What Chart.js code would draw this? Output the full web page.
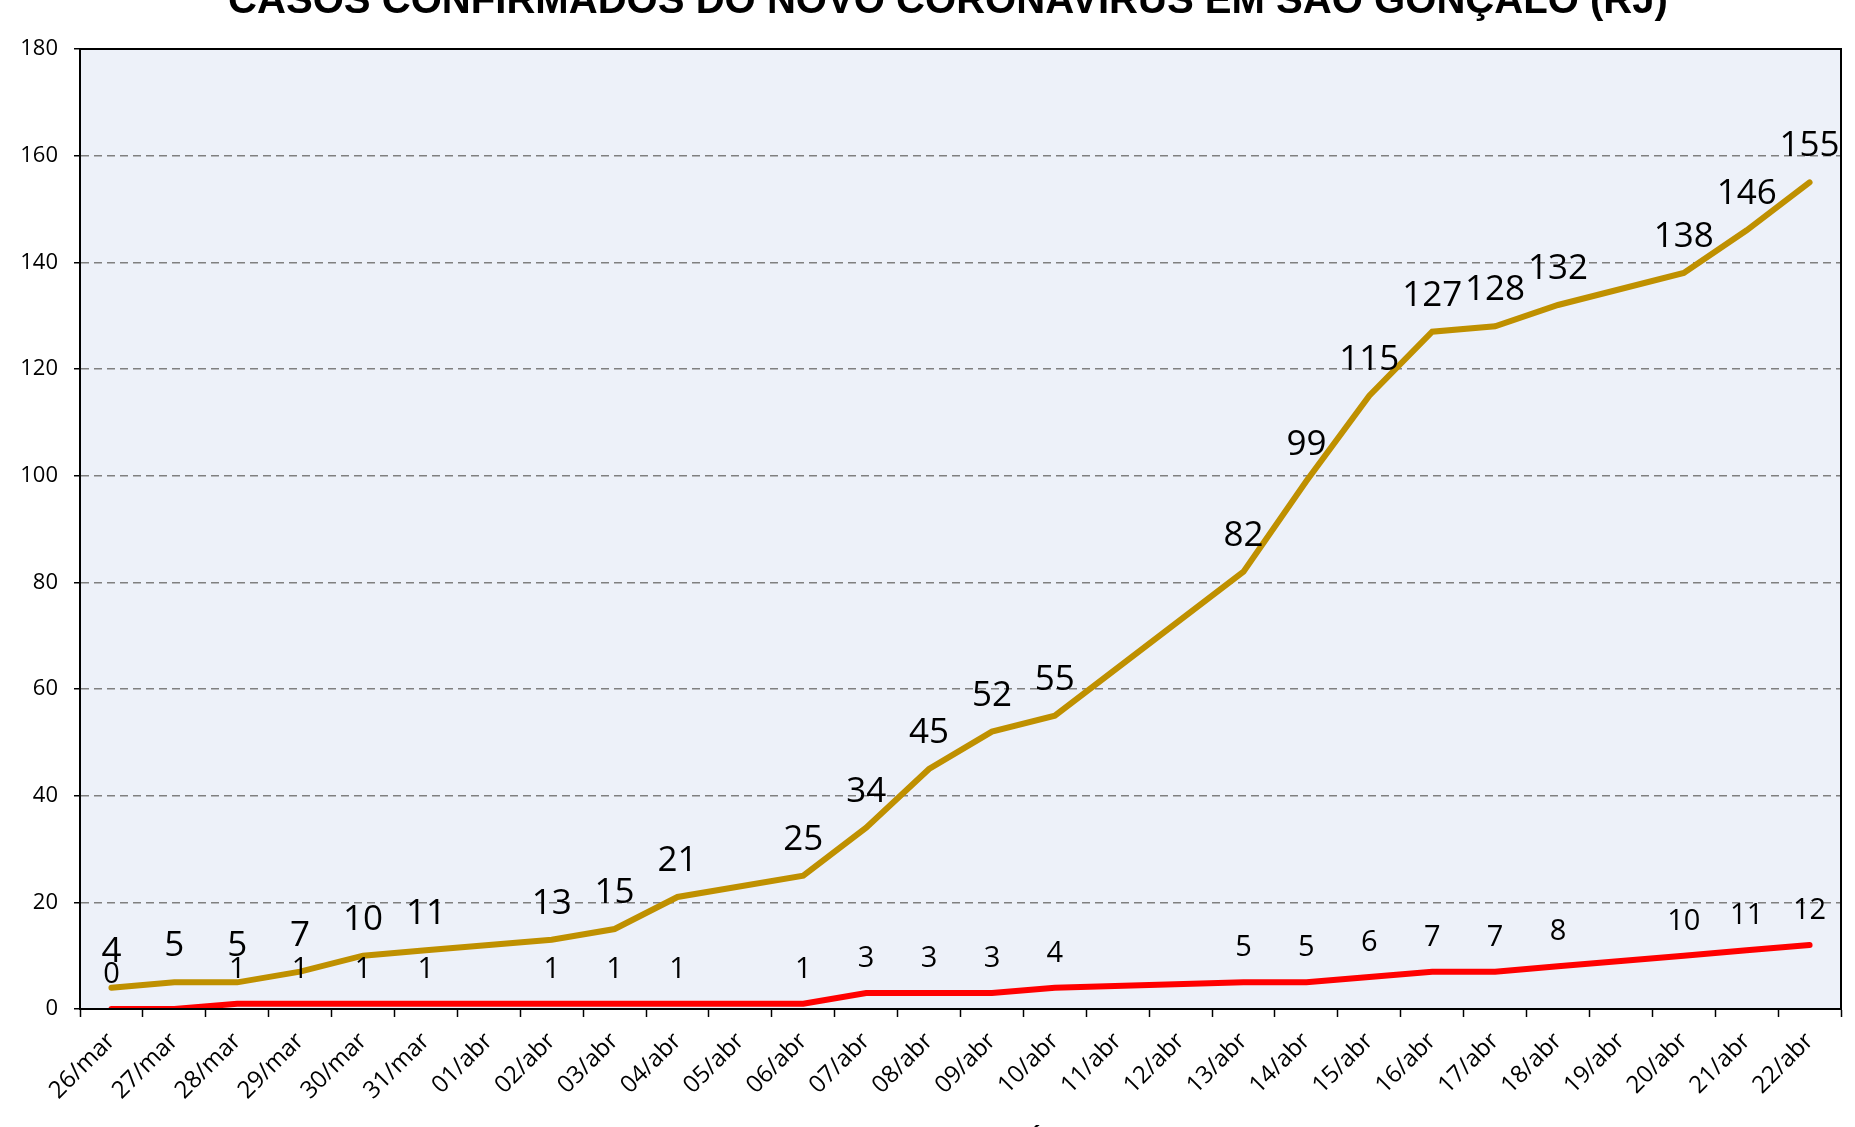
<!DOCTYPE html>
<html>
<head>
<meta charset="utf-8">
<script src="https://cdn.jsdelivr.net/npm/chart.js@4.4.1/dist/chart.umd.min.js"></script>
<style>
  html, body { margin: 0; padding: 0; background: #fff; }
  #box { width: 1855px; height: 1127px; }
</style>
</head>
<body>
<div id="box"><canvas id="grafico"></canvas></div>
<script>
const dias = ['26/mar','27/mar','28/mar','29/mar','30/mar','31/mar','01/abr','02/abr','03/abr','04/abr',
  '05/abr','06/abr','07/abr','08/abr','09/abr','10/abr','11/abr','12/abr','13/abr','14/abr',
  '15/abr','16/abr','17/abr','18/abr','19/abr','20/abr','21/abr','22/abr'];

// dias sem registro ficam null (linha liga os pontos vizinhos)
const casos = [4,5,5,7,10,11,null,13,15,21,null,25,34,45,52,55,null,null,82,99,115,127,128,132,null,138,146,155];
const obitos = [0,0,1,1,1,1,null,1,1,1,null,1,3,3,3,4,null,null,5,5,6,7,7,8,null,10,11,12];
const semRotuloObitos = ['27/mar'];

const ticksY = [0,20,40,60,80,100,120,140,160,180];

const titulo = 'CASOS CONFIRMADOS DO NOVO CORONAVÍRUS EM SÃO GONÇALO (RJ)';
const tituloEixoX = 'PERÍODO';

const fundoArea = {
  id: 'fundoArea',
  beforeDraw(chart) {
    const { ctx, chartArea: a } = chart;
    ctx.save();
    ctx.fillStyle = '#EDF1F9';
    ctx.fillRect(a.left, a.top, a.right - a.left, a.bottom - a.top);
    ctx.restore();
  },
  afterDraw(chart) {
    const { ctx, chartArea: a } = chart;
    ctx.save();
    ctx.strokeStyle = '#000';
    ctx.lineWidth = 2;
    ctx.strokeRect(a.left, a.top, a.right - a.left, a.bottom - a.top);

    // titulo (cortado no topo como na imagem)
    let tam = 40;
    ctx.font = 'bold ' + tam + 'px "Liberation Sans", sans-serif';
    const w = ctx.measureText(titulo).width;
    tam = tam * 1440 / w;
    ctx.font = 'bold ' + tam + 'px "Liberation Sans", sans-serif';
    ctx.fillStyle = '#000';
    ctx.textAlign = 'center';
    ctx.textBaseline = 'alphabetic';
    ctx.fillText(titulo, 948, 13);

    // titulo do eixo x, quase todo fora da imagem (so o acento aparece)
    ctx.font = 'bold 26px "Liberation Sans", sans-serif';
    ctx.textAlign = 'left';
    const antes = ctx.measureText('PER').width;
    const meioI = ctx.measureText('Í').width / 2;
    ctx.fillText(tituloEixoX, 1035 - antes - meioI, 1148);
    ctx.restore();
  }
};

const rotulos = {
  id: 'rotulos',
  afterDatasetsDraw(chart) {
    const { ctx } = chart;
    ctx.save();
    ctx.fillStyle = '#000';
    ctx.textAlign = 'center';
    ctx.textBaseline = 'alphabetic';
    chart.data.datasets.forEach((ds, i) => {
      const meta = chart.getDatasetMeta(i);
      ctx.font = (i === 0 ? 35 : 29) + 'px "Open Sans", sans-serif';
      meta.data.forEach((pt, j) => {
        const v = ds.data[j];
        if (v === null) return;
        if (i === 1 && semRotuloObitos.includes(dias[j])) return;
        ctx.fillText(String(v), pt.x, pt.y - 26);
      });
    });
    ctx.restore();
  }
};

new Chart(document.getElementById('grafico'), {
  type: 'line',
  data: {
    labels: dias,
    datasets: [
      {
        label: 'Casos confirmados',
        data: casos,
        borderColor: '#BF9000',
        backgroundColor: '#BF9000',
        borderWidth: 6,
        pointRadius: 0,
        tension: 0,
        spanGaps: true,
        borderCapStyle: 'round'
      },
      {
        label: 'Óbitos',
        data: obitos,
        borderColor: '#FF0000',
        backgroundColor: '#FF0000',
        borderWidth: 6,
        pointRadius: 0,
        tension: 0,
        spanGaps: true,
        borderCapStyle: 'round'
      }
    ]
  },
  options: {
    responsive: true,
    maintainAspectRatio: false,
    animation: false,
    layout: { padding: { top: 49, right: 14, left: 0, bottom: 0 } },
    plugins: {
      legend: { display: false },
      tooltip: { enabled: false }
    },
    scales: {
      x: {
        offset: true,
        grid: {
          offset: true,
          drawOnChartArea: false,
          color: '#000',
          tickLength: 8,
          tickWidth: 1.5
        },
        border: { color: '#000', width: 2 },
        ticks: {
          color: '#000',
          font: { family: '"Open Sans", sans-serif', size: 24 },
          maxRotation: 45,
          minRotation: 45,
          autoSkip: false,
          padding: 10
        },
        afterFit(scale) { scale.height = 118; }
      },
      y: {
        min: 0,
        max: 180,
        afterBuildTicks(scale) { scale.ticks = ticksY.map(v => ({ value: v })); },
        grid: {
          color: '#808080',
          lineWidth: 1.5,
          tickLength: 6,
          tickColor: '#000',
          tickBorderDash: [],
          drawTicks: true
        },
        border: { color: '#000', width: 2, dash: [8, 5] },
        ticks: {
          color: '#000',
          font: { family: '"Open Sans", sans-serif', size: 22 },
          padding: 16
        },
        afterFit(scale) { scale.width = 80; }
      }
    }
  },
  plugins: [fundoArea, rotulos]
});
</script>
</body>
</html>
